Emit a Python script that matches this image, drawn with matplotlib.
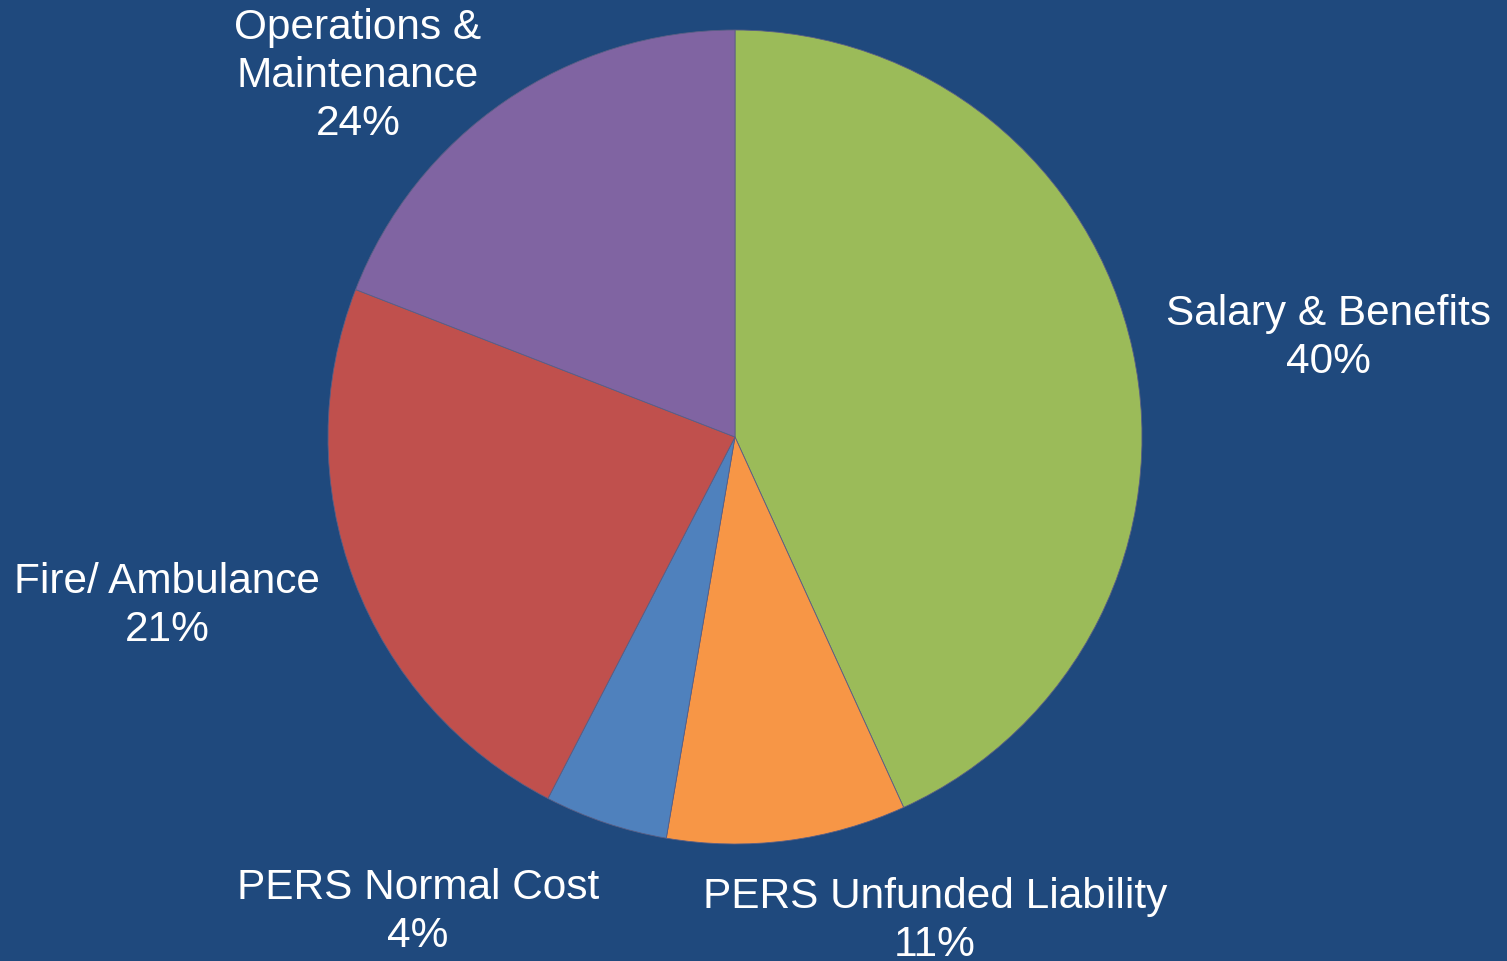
import matplotlib
matplotlib.use("Agg")
import matplotlib.pyplot as plt

# Data (slice shares; labels as printed)
categories = ["Salary & Benefits", "PERS Unfunded Liability", "PERS Normal Cost",
              "Fire/ Ambulance", "Operations &\nMaintenance"]
slice_values = [43.2, 9.5, 4.9, 23.3, 19.1]
label_pcts = ["40%", "11%", "4%", "21%", "24%"]
colors = ["#9BBB59", "#F79646", "#4F81BD", "#C0504D", "#8064A2"]

BG = "#1F497D"
W, H = 1507, 961
fig = plt.figure(figsize=(W / 100, H / 100), dpi=100, facecolor=BG)

cx, cy, r = 735, 437, 407  # pie centre and radius in pixels (from top)
ax = fig.add_axes([(cx - r) / W, (H - cy - r) / H, 2 * r / W, 2 * r / H])
ax.set_facecolor(BG)
ax.pie(slice_values, colors=colors, startangle=90, counterclock=False,
       radius=1.0, wedgeprops=dict(edgecolor="#5a5f85", linewidth=0.6))
ax.set_xlim(-1, 1)
ax.set_ylim(-1, 1)
ax.set_aspect("equal")
ax.axis("off")

# label centres in pixels (x, y from top)
label_pos = [(1328, 338), (935, 921), (418, 912), (167, 606), (358, 76)]
for cat, pct, (lx, ly) in zip(categories, label_pcts, label_pos):
    fig.text(lx / W, 1 - ly / H, f"{cat}\n{pct}", ha="center", va="center",
             color="white", fontsize=30.5, family=["Liberation Sans", "DejaVu Sans"],
             linespacing=1.25, multialignment="center")

fig.savefig("out.png", dpi=100, facecolor=BG)
